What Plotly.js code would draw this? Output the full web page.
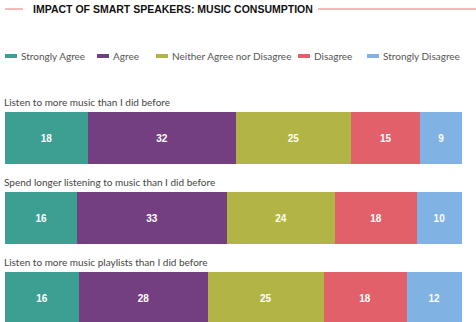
<!DOCTYPE html>
<html>
<head>
<meta charset="utf-8">
<script src="https://cdn.plot.ly/plotly-3.0.1.min.js"></script>
<style>html,body{margin:0;padding:0;background:#fff;}#chart{width:476px;height:322px;}</style>
</head>
<body>
<div id="chart"></div>
<script>
// ---- data ----
var statements = [
  "Listen to more music than I did before",
  "Spend longer listening to music than I did before",
  "Listen to more music playlists than I did before"
];
var responseLabels = ["Strongly Agree", "Agree", "Neither Agree nor Disagree", "Disagree", "Strongly Disagree"];
var stronglyAgree    = [18, 16, 16];
var agree            = [32, 33, 28];
var neither          = [25, 24, 25];
var disagree         = [15, 18, 18];
var stronglyDisagree = [9, 10, 12];
var chartTitle = "IMPACT OF SMART SPEAKERS: MUSIC CONSUMPTION";

// ---- styling ----
var colors = ["#3c9f92", "#733f81", "#b3b446", "#e2606a", "#80b2e3"];
var seriesValues = [stronglyAgree, agree, neither, disagree, stronglyDisagree];
var W = 476, H = 322, ML = 5, MR = 14, MT = 98, MB = 0;
var PW = W - ML - MR, PH = H - MT - MB;
function px2x(px){ return (px - ML) / PW; }
function py2y(py){ return (H - MB - py) / PH; }
var bodyFont = "Lato, 'Open Sans', sans-serif";

var traces = seriesValues.map(function(vals, i){
  return {
    type: "bar",
    orientation: "h",
    name: responseLabels[i],
    y: statements,
    x: vals,
    text: vals.map(String),
    texttemplate: "%{text}",
    textposition: "inside",
    insidetextanchor: "middle",
    constraintext: "none",
    textfont: {family: "'Liberation Sans', Arial, sans-serif", size: 10, color: "#ffffff", weight: "bold"},
    marker: {color: colors[i], line: {width: 0}},
    width: 0.65,
    hoverinfo: "skip",
    showlegend: false
  };
});

var annotations = [];
var shapes = [];
// row titles
statements.forEach(function(s, i){
  annotations.push({
    text: s, xref: "paper", yref: "y", x: px2x(2), y: i - 0.45,
    xanchor: "left", yanchor: "middle", showarrow: false,
    font: {family: bodyFont, size: 10, color: "#444444"}
  });
});
// custom legend
var legendX = [5, 97, 156, 298, 367];
var legendY = 56;
responseLabels.forEach(function(lab, i){
  shapes.push({type: "rect", xref: "paper", yref: "paper",
    x0: px2x(legendX[i]), x1: px2x(legendX[i] + 12),
    y0: py2y(legendY + 2), y1: py2y(legendY - 2),
    fillcolor: colors[i], line: {width: 0}});
  annotations.push({
    text: lab, xref: "paper", yref: "paper",
    x: px2x(legendX[i] + 14), y: py2y(legendY),
    xanchor: "left", yanchor: "middle", showarrow: false,
    font: {family: bodyFont, size: 10, color: "#555555"}
  });
});
// title decorative lines
shapes.push({type: "line", xref: "paper", yref: "paper",
  x0: px2x(5), x1: px2x(23), y0: py2y(9), y1: py2y(9),
  line: {color: "#f0a3a3", width: 1.5}});
shapes.push({type: "line", xref: "paper", yref: "paper",
  x0: px2x(318), x1: px2x(476), y0: py2y(9), y1: py2y(9),
  line: {color: "#f0a3a3", width: 1.5}});

var layout = {
  width: W, height: H,
  margin: {l: ML, r: MR, t: MT, b: MB, pad: 0},
  paper_bgcolor: "#ffffff", plot_bgcolor: "#ffffff",
  title: {
    text: chartTitle, xref: "container", yref: "container",
    x: 33 / W, xanchor: "left", y: 1 - 9 / H, yanchor: "middle",
    font: {family: "'Liberation Sans', Arial, sans-serif", size: 10.5, color: "#111111", weight: "bold"}
  },
  barmode: "stack",
  barnorm: "percent",
  bargap: 0,
  xaxis: {range: [0, 100], visible: false, fixedrange: true},
  yaxis: {type: "category", range: [2.3, -0.5], visible: false, fixedrange: true},
  showlegend: false,
  annotations: annotations,
  shapes: shapes
};

Plotly.newPlot("chart", traces, layout, {displayModeBar: false, staticPlot: true});
</script>
</body>
</html>
